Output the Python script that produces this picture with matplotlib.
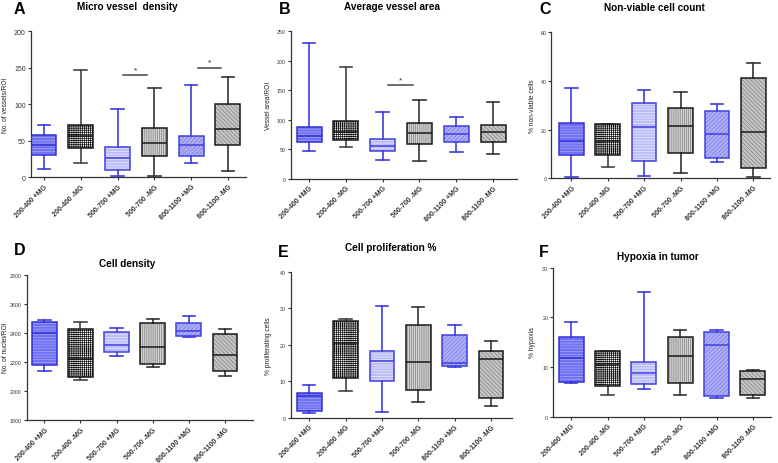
import matplotlib
matplotlib.use("Agg")
import matplotlib.pyplot as plt
from matplotlib.patches import PathPatch

plt.rcParams['font.family'] = ['Liberation Sans', 'DejaVu Sans']
plt.rcParams['hatch.linewidth'] = 0.5

W, H = 778, 464

# ---------------------------------------------------------------
# DATA  (whisker low, Q1, median, Q3, whisker high) per group
# ---------------------------------------------------------------
groups = ["200-400 +MG", "200-400 -MG", "500-700 +MG",
          "500-700 -MG", "800-1100 +MG", "800-1100 -MG"]

mvd = [[12, 31, 44, 58, 72], [20, 40, 57, 72, 147], [2, 10, 27, 41, 93],
       [2, 29, 47, 68, 122], [19, 29, 44, 57, 127], [9, 44, 66, 100, 137]]
area = [[47, 63, 73, 88, 230], [55, 66, 80, 98, 190], [33, 47, 56, 67, 114],
        [30, 59, 78, 94, 134], [46, 63, 76, 89, 105], [42, 62, 80, 92, 130]]
nonviable = [[0.7, 9.5, 15.3, 22.7, 37], [4.5, 9.7, 15.5, 22.2, 22.4],
             [1.1, 7.1, 21, 30.8, 36.4], [2.3, 10.4, 21.5, 28.9, 35.6],
             [6.6, 8.2, 18.2, 27.5, 30.5], [0.7, 4.1, 18.9, 41.2, 47.5]]
density = [[2136, 2182, 2398, 2477, 2492], [2077, 2097, 2219, 2427, 2477],
           [2245, 2272, 2316, 2408, 2436], [2164, 2189, 2306, 2466, 2496],
           [2370, 2381, 2416, 2466, 2518], [2107, 2136, 2251, 2390, 2427]]
prolif = [[1.3, 1.7, 6.0, 6.7, 9.0], [7.3, 11.0, 20.4, 26.5, 27.1],
          [1.6, 10.0, 15.6, 18.4, 30.6], [4.4, 7.6, 15.2, 25.5, 30.2],
          [14.0, 14.2, 15.0, 22.7, 25.4], [3.1, 5.3, 16.2, 18.3, 20.9]]
hypoxia = [[6.8, 7.0, 11.8, 16.0, 19.0], [4.4, 6.1, 10.6, 13.2, 13.3],
           [5.5, 6.6, 8.8, 11.0, 25.1], [4.4, 6.7, 12.2, 16.0, 17.5],
           [3.8, 4.1, 14.4, 17.0, 17.5], [3.7, 4.4, 7.6, 9.3, 9.5]]

# significance bars: (x start, x end, y)
sig_a = [(3.15, 3.8, 140), (5.18, 5.8, 150)]
sig_b = [(3.14, 3.82, 158.6)]

# ---------------------------------------------------------------
# STYLE per group
# ---------------------------------------------------------------
BLUE = '#3c3ce0'
styles = [
    dict(face='#7070f2', edge='#3030d8', hatch='------', hcol='#a8a8ff', line=BLUE),
    dict(face='white', edge='#1a1a1a', hatch='++++++++', hcol='#111111', line='#444444'),
    dict(face='#bcbcf8', edge='#4040e0', hatch='------', hcol='#eaeaff', line=BLUE),
    dict(face='#d2d2d2', edge='#1a1a1a', hatch='||||||||', hcol='#808080', line='#333333'),
    dict(face='#aeaef6', edge='#4040e0', hatch='////////', hcol='#7c7ce8', line=BLUE),
    dict(face='#c6c6c6', edge='#1a1a1a', hatch='\\\\\\\\\\\\\\\\', hcol='#808080', line='#333333'),
]

fig = plt.figure(figsize=(W / 100, H / 100), dpi=100)
fig.patch.set_facecolor('white')


def rect(l, t, r, b):
    return [l / W, 1 - b / H, (r - l) / W, (b - t) / H]


def draw_panel(box, xlim, data, yticks, ytick_fs=3.8):
    ax = fig.add_axes(rect(*box))
    for i, (lo, q1, med, q3, hi) in enumerate(data):
        st = styles[i]
        stats = [dict(whislo=lo, q1=q1, med=med, q3=q3, whishi=hi, fliers=[])]
        res = ax.bxp(stats, positions=[i + 1], widths=0.68, patch_artist=True,
                     showfliers=False,
                     boxprops=dict(facecolor=st['face'], edgecolor=st['hcol'],
                                   hatch=st['hatch'], linewidth=0),
                     whiskerprops=dict(color=st['line'], linewidth=1.2),
                     capprops=dict(color=st['line'], linewidth=1.2),
                     medianprops=dict(color=st['edge'], linewidth=1.1, zorder=4))
        outline = PathPatch(res['boxes'][0].get_path(), fill=False,
                            edgecolor=st['edge'], linewidth=1.1, zorder=3)
        ax.add_patch(outline)
    ax.set_xlim(*xlim)
    ax.set_ylim(yticks[0], yticks[-1])
    ax.set_yticks(yticks)
    ax.set_xticks(range(1, len(groups) + 1))
    ax.set_xticklabels(groups, rotation=45, ha='right', rotation_mode='anchor',
                       fontsize=5.0, fontweight='bold', color='#222222')
    ax.tick_params(axis='y', labelsize=ytick_fs, length=2.5, width=0.8, pad=1,
                   colors='#333333')
    ax.tick_params(axis='x', length=2.5, width=0.8, pad=1.5, colors='#333333')
    for s in ['top', 'right']:
        ax.spines[s].set_visible(False)
    for s in ['left', 'bottom']:
        ax.spines[s].set_color('#333333')
        ax.spines[s].set_linewidth(0.9)
    return ax


def add_sig(ax, bars):
    for x0, x1, y in bars:
        ax.plot([x0, x1], [y, y], color='#444444', linewidth=1.1)
        ax.text((x0 + x1) / 2, y * 1.02, '*', ha='center', va='bottom',
                fontsize=6, color='#222222')


ax_a = draw_panel((30.7, 32.3, 246, 178.3), (0.64, 6.49), mvd,
                  [0, 50, 100, 150, 200], ytick_fs=5)
add_sig(ax_a, sig_a)
ax_b = draw_panel((290.7, 32.3, 517, 180), (0.5, 6.65), area,
                  [0, 50, 100, 150, 200, 250])
add_sig(ax_b, sig_b)
draw_panel((551.3, 33.3, 769.7, 179.3), (0.45, 6.45), nonviable, [0, 20, 40, 60])
draw_panel((26.7, 275.7, 253, 421.3), (0.51, 6.78), density,
           [1800, 2000, 2200, 2400, 2600, 2800])
draw_panel((290.7, 272.7, 512.3, 418.7), (0.49, 6.59), prolif, [0, 10, 20, 30, 40])
draw_panel((553, 268.7, 771, 417.7), (0.5, 6.5), hypoxia, [0, 10, 20, 30])

# ---------------------------------------------------------------
# TEXT
# ---------------------------------------------------------------
letters = [("A", 19.5, 9.5), ("B", 285, 9), ("C", 545.5, 9),
           ("D", 19.5, 251), ("E", 283, 252.5), ("F", 543.5, 252.5)]
for s, x, y in letters:
    fig.text(x / W, 1 - y / H, s, ha='center', va='center',
             fontsize=11.5, fontweight='bold', color='black')

titles = [("Micro vessel  density", 127, 7), ("Average vessel area", 392, 7),
          ("Non-viable cell count", 654, 8), ("Cell density", 127, 264),
          ("Cell proliferation %", 391, 248), ("Hypoxia in tumor", 658, 257.5)]
for s, x, y in titles:
    fig.text(x / W, 1 - y / H, s, ha='center', va='center',
             fontsize=7.2, fontweight='bold', color='black')

ylabels = [("No. of vessels/ROI", 6, 105), ("Vessel area/ROI", 268, 106),
           ("% non-viable cells", 533, 106), ("No. of nuclei/ROI", 6, 348),
           ("% proliferating cells", 268, 346), ("% hypoxia", 532, 343)]
for s, x, y in ylabels:
    fig.text(x / W, 1 - y / H, s, ha='center', va='center', rotation=90,
             fontsize=4.8, color='#222222')

fig.savefig("out.png", dpi=100)
